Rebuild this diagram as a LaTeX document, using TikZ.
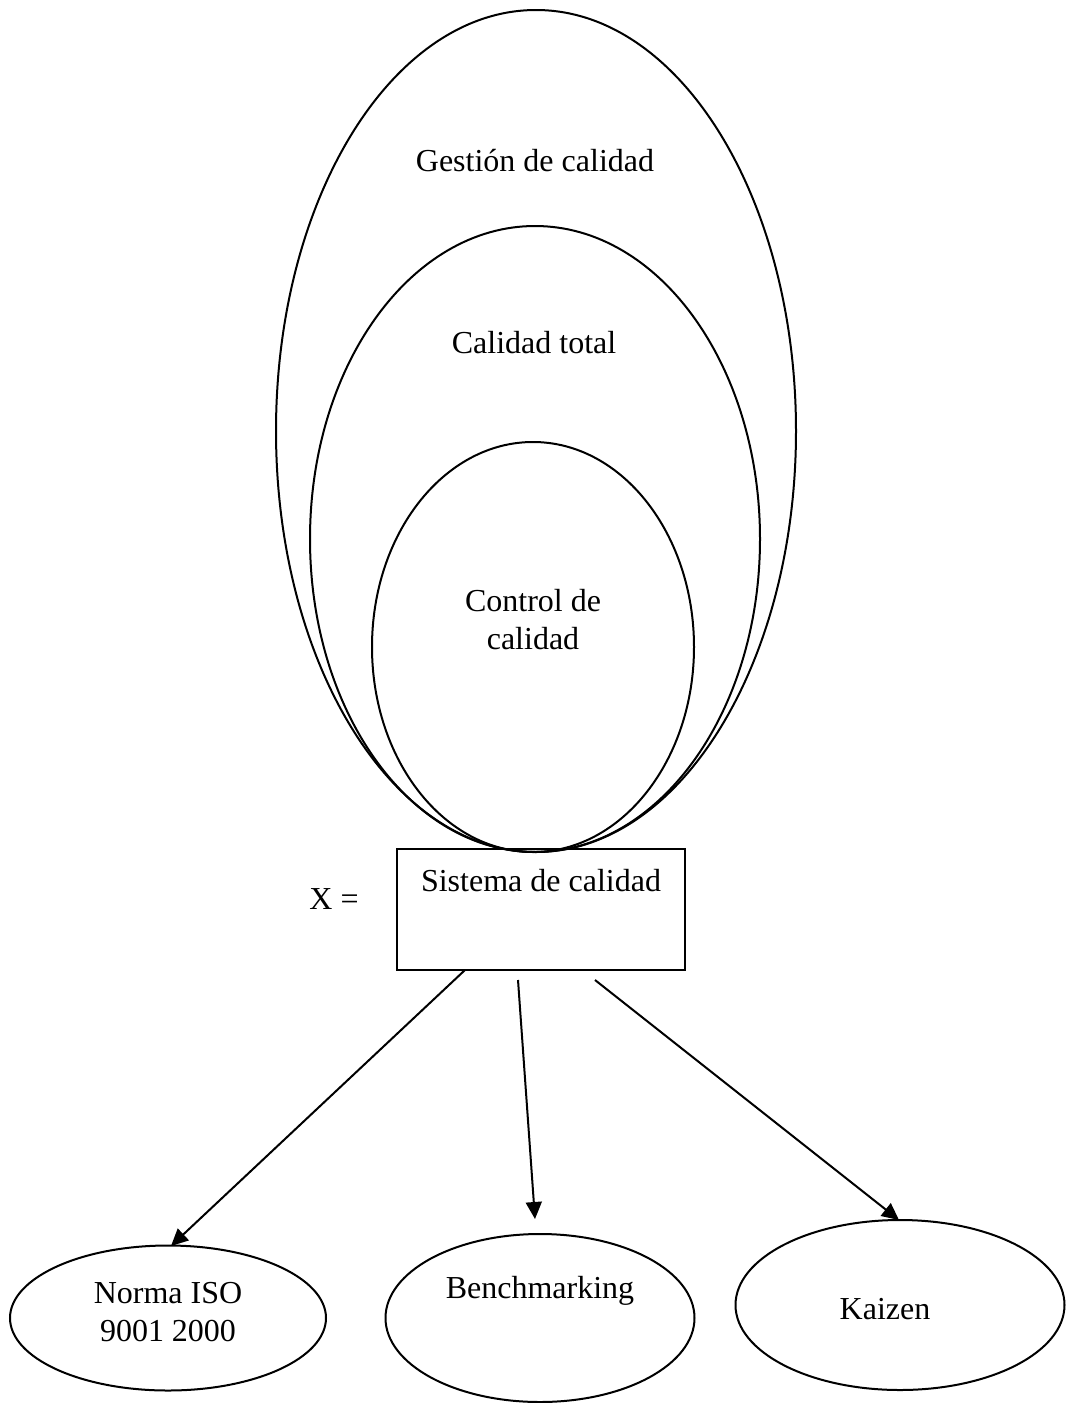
\documentclass[tikz,border=0pt]{standalone}
\usepackage{fontspec}
\setmainfont{Liberation Serif}
\usetikzlibrary{shapes.geometric,arrows.meta}

\begin{document}
\begin{tikzpicture}[x=1pt,y=-1pt,
  every node/.style={font=\fontsize{32}{38}\selectfont, inner sep=0pt},
  outline/.style={draw=black, line width=2pt},
  oval/.style={outline, ellipse, inner sep=0pt, outer sep=0pt},
  box/.style={outline, rectangle, inner sep=0pt, outer sep=0pt},
  label text/.style={align=center, text=black},
  link/.style={line width=2pt, -{Triangle[length=17pt,width=16pt]}}
]
\useasboundingbox (0,0) rectangle (1068,1403);

% nested quality concepts
\node[oval, minimum width=520pt, minimum height=842pt] (gestion) at (536,431) {};
\node[oval, minimum width=450pt, minimum height=626pt] (total)   at (535,539) {};
\node[oval, minimum width=322pt, minimum height=410pt] (control) at (533,647) {};

\node[label text, anchor=base] (tgestion) at (535,171) {Gestión de calidad};
\node[label text, anchor=base] (ttotal)   at (534,353) {Calidad total};
\node[label text] (tcontrol) at (533,620) {Control de\\calidad};

% quality system box
\node[box, minimum width=288pt, minimum height=121pt] (sys) at (541,909.5) {};
\node[label text, anchor=base] (tsys) at (541,891) {Sistema de calidad};
\node[label text, anchor=base] (xeq) at (334,909) {X =};

% tools of the quality system
\node[oval, minimum width=316pt, minimum height=145pt] (iso)    at (168,1318) {};
\node[oval, minimum width=309pt, minimum height=168pt] (bench)  at (540,1318) {};
\node[oval, minimum width=329pt, minimum height=170pt] (kaizen) at (900,1305) {};

\node[label text] (tiso) at (168,1312) {Norma ISO\\9001 2000};
\node[label text, anchor=base] (tbench)  at (540,1298) {Benchmarking};
\node[label text, anchor=base] (tkaizen) at (885,1319) {Kaizen};

% connectors
\coordinate (s1) at (465,970);
\coordinate (s2) at (518,980);
\coordinate (s3) at (595,980);
\coordinate (e1) at (171,1246);
\coordinate (e2) at (535,1219);
\coordinate (e3) at (899,1220);

\draw[link] (s1) -- (e1);
\draw[link] (s2) -- (e2);
\draw[link] (s3) -- (e3);
\end{tikzpicture}
\end{document}
